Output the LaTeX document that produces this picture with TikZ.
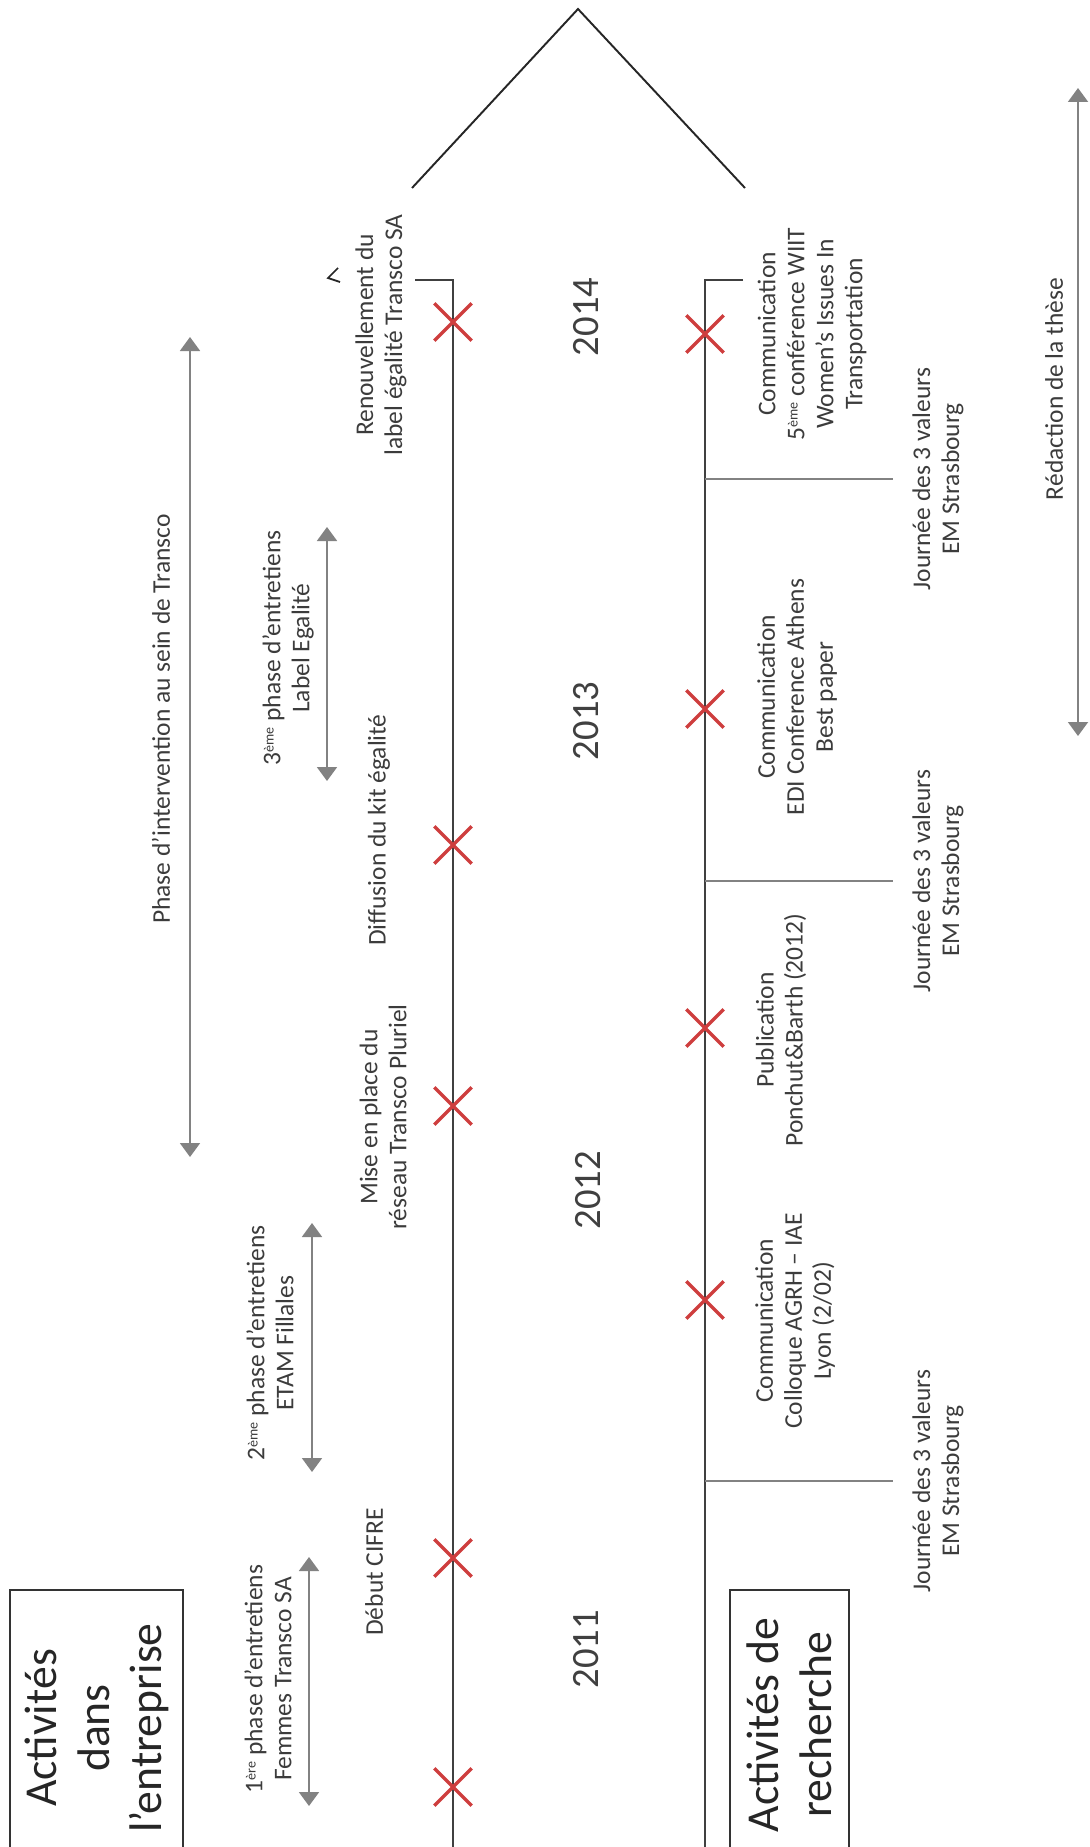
\documentclass[tikz,border=0pt]{standalone}
\usepackage{fontspec}
\setmainfont{Carlito}
\usetikzlibrary{arrows.meta,shapes.misc}
\definecolor{crossred}{RGB}{206,62,62}
\definecolor{linegray}{RGB}{130,130,130}
\definecolor{textgray}{RGB}{60,60,60}
\newcommand{\smallsup}[1]{\raisebox{0.55ex}{\fontsize{8}{8}\selectfont #1}}
\begin{document}
\begin{tikzpicture}[x=0.2mm,y=-0.2mm]
		\tikzstyle{note}=[rotate=90,align=center,text=textgray,inner sep=0pt,font=\fontsize{14.5}{16.5}\selectfont]
		\tikzstyle{year}=[rotate=90,text=black!75,inner sep=0pt,font=\fontsize{22}{26}\selectfont]
		\tikzstyle{boxtitle}=[rotate=90,align=center,text=black!85,inner sep=0pt,font=\fontsize{26}{30}\selectfont]
		\tikzstyle{hit}=[cross out,draw=crossred,line width=1.9pt,minimum size=6.8mm,inner sep=0pt]
		\tikzstyle{track}=[draw=black!75,line width=1.5pt]
		\tikzstyle{notch}=[draw=linegray,line width=1.4pt]
		\tikzstyle{period}=[draw=linegray,line width=1.1pt,{Triangle[width=4mm,length=2.8mm]}-{Triangle[width=4mm,length=2.8mm]}]
		\useasboundingbox (0,0) rectangle (1090,1847);
		\draw[black!85,line width=1.1pt] (412,188) -- (578,9) -- (745,188);
		\draw[black!85,line width=1pt] (338,268) -- (328,278) -- (340,282);
		\begin{scope}
			\coordinate (e0) at (415,280);
			\coordinate (etop) at (453,280);
			\coordinate (eend) at (453,1870);
			\path[track] (e0) -- (etop) -- (eend);
			\node [hit] (e1) at (453,322) {};
			\node [hit] (e2) at (453,845) {};
			\node [hit] (e3) at (453,1106) {};
			\node [hit] (e4) at (453,1558) {};
			\node [hit] (e5) at (453,1787) {};
			\node [note] (renew) at (381,335) {Renouvellement du\\label égalité Transco SA};
			\node [note] (kit) at (379,830) {Diffusion du kit égalité};
			\node [note] (reseau) at (383,1117) {Mise en place du\\réseau Transco Pluriel};
			\node [note] (cifre) at (374,1572) {Début CIFRE};
			\node [note] (interv) at (161,719) {Phase d’intervention au sein de Transco};
			\node [note] (phase3) at (288,648) {3\smallsup{ème} phase d’entretiens\\Label Egalité};
			\node [note] (phase2) at (270,1343) {2\smallsup{ème} phase d’entretiens\\ETAM Fillales};
			\node [note] (phase1) at (268,1679) {1\smallsup{ère} phase d’entretiens\\Femmes Transco SA};
			\coordinate (i1) at (190,337);
			\coordinate (i2) at (190,1157);
			\coordinate (p3a) at (327,527);
			\coordinate (p3b) at (327,781);
			\coordinate (p2a) at (312,1223);
			\coordinate (p2b) at (312,1472);
			\coordinate (p1a) at (309,1557);
			\coordinate (p1b) at (309,1806);
			\path[period] (i1) -- (i2);
			\path[period] (p3a) -- (p3b);
			\path[period] (p2a) -- (p2b);
			\path[period] (p1a) -- (p1b);
			\draw[black!80,line width=0.9pt] (10,1590) rectangle (183,1870);
			\node [boxtitle] (entreprise) at (97,1728) {Activités\\dans\\l’entreprise};
		\end{scope}
		\node [year] (y2014) at (586,317) {2014};
		\node [year] (y2013) at (586,721) {2013};
		\node [year] (y2012) at (588,1190) {2012};
		\node [year] (y2011) at (586,1649) {2011};
		\begin{scope}
			\coordinate (r0) at (743,280);
			\coordinate (rtop) at (705,280);
			\coordinate (rend) at (705,1870);
			\path[track] (r0) -- (rtop) -- (rend);
			\coordinate (k1a) at (705,479);
			\coordinate (k1b) at (893,479);
			\coordinate (k2a) at (705,881);
			\coordinate (k2b) at (893,881);
			\coordinate (k3a) at (705,1481);
			\coordinate (k3b) at (893,1481);
			\path[notch] (k1a) -- (k1b);
			\path[notch] (k2a) -- (k2b);
			\path[notch] (k3a) -- (k3b);
			\node [hit] (r1) at (705,334) {};
			\node [hit] (r2) at (705,709) {};
			\node [hit] (r3) at (705,1028) {};
			\node [hit] (r4) at (705,1300) {};
			\node [note] (wiit) at (812,334) {Communication\\5\smallsup{ème} conférence WIIT\\Women’s Issues In\\Transportation};
			\node [note] (edi) at (797,697) {Communication\\EDI Conference Athens\\Best paper};
			\node [note] (publi) at (781,1030) {Publication\\Ponchut\&Barth (2012)};
			\node [note] (agrh) at (795,1321) {Communication\\Colloque AGRH – IAE\\Lyon (2/02)};
			\node [note] (journee1) at (938,479) {Journée des 3 valeurs\\EM Strasbourg};
			\node [note] (journee2) at (938,881) {Journée des 3 valeurs\\EM Strasbourg};
			\node [note] (journee3) at (938,1481) {Journée des 3 valeurs\\EM Strasbourg};
			\node [note] (these) at (1054,389) {Rédaction de la thèse};
			\coordinate (t1) at (1078,88);
			\coordinate (t2) at (1078,736);
			\path[period] (t1) -- (t2);
			\draw[black!80,line width=0.9pt] (730,1590) rectangle (849,1870);
			\node [boxtitle] (recherche) at (789,1725) {Activités de\\recherche};
		\end{scope}
\end{tikzpicture}
\end{document}
